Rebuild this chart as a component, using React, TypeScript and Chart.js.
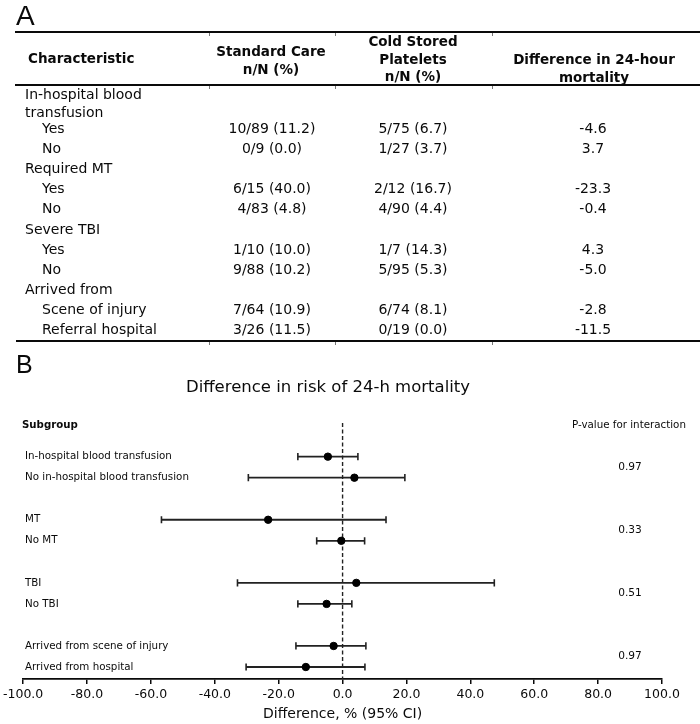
import React, { useEffect, useRef } from 'react';
import { Chart, registerables } from 'chart.js';

Chart.register(...registerables);

// ---------- Panel A data ----------
const tableHeaders = [
  'Characteristic',
  'Standard Care\nn/N (%)',
  'Cold Stored\nPlatelets\nn/N (%)',
  'Difference in 24-hour\nmortality',
];
const characteristics = [
  'In-hospital blood transfusion',
  'Yes',
  'No',
  'Required MT',
  'Yes',
  'No',
  'Severe TBI',
  'Yes',
  'No',
  'Arrived from',
  'Scene of injury',
  'Referral hospital',
];
const standardCare = ['', '10/89 (11.2)', '0/9 (0.0)', '', '6/15 (40.0)', '4/83 (4.8)', '', '1/10 (10.0)', '9/88 (10.2)', '', '7/64 (10.9)', '3/26 (11.5)'];
const coldStored = ['', '5/75 (6.7)', '1/27 (3.7)', '', '2/12 (16.7)', '4/90 (4.4)', '', '1/7 (14.3)', '5/95 (5.3)', '', '6/74 (8.1)', '0/19 (0.0)'];
const mortalityDifference = ['', '-4.6', '3.7', '', '-23.3', '-0.4', '', '4.3', '-5.0', '', '-2.8', '-11.5'];

// ---------- Panel B data ----------
const forestTitle = 'Difference in risk of 24-h mortality';
const subgroupHeader = 'Subgroup';
const pValueHeader = 'P-value for interaction';
const forestLabels = [
  'In-hospital blood transfusion',
  'No in-hospital blood transfusion',
  'MT',
  'No MT',
  'TBI',
  'No TBI',
  'Arrived from scene of injury',
  'Arrived from hospital',
];
const estimates = [-4.6, 3.7, -23.3, -0.4, 4.3, -5.0, -2.8, -11.5];
const ciLower = [-14.0, -29.5, -56.7, -8.1, -32.9, -14.0, -14.6, -30.2];
const ciUpper = [4.8, 19.5, 13.6, 6.9, 47.5, 2.9, 7.3, 7.0];
const pValues = ['0.97', '0.33', '0.51', '0.97'];
const xTickValues = [-100, -80, -60, -40, -20, 0, 20, 40, 60, 80, 100];
const xAxisTitle = 'Difference, % (95% CI)';

const FONT = '"DejaVu Sans", Verdana, sans-serif';
const INK = '#0a0a0a';

type TProps = {
  x: number;
  y: number;
  text: string;
  align?: 'left' | 'center';
  bold?: boolean;
  size: number;
  lh: number;
  width?: number;
  family?: string;
};

function T({ x, y, text, align = 'left', bold, size, lh, width, family }: TProps) {
  const style: React.CSSProperties = {
    position: 'absolute',
    top: y - lh / 2,
    fontFamily: family || FONT,
    fontSize: size,
    fontWeight: bold ? 700 : 400,
    lineHeight: lh + 'px',
    color: INK,
    whiteSpace: width ? 'normal' : 'pre',
    margin: 0,
  };
  if (align === 'center') {
    style.left = x - 150;
    style.width = 300;
    style.textAlign = 'center';
  } else {
    style.left = x;
    if (width) style.width = width;
  }
  return <div style={style}>{text}</div>;
}

function HLine({ y, x1, x2, w }: { y: number; x1: number; x2: number; w: number }) {
  return (
    <div
      style={{ position: 'absolute', left: x1, top: y - w / 2, width: x2 - x1, height: w, background: INK }}
    />
  );
}

function Tick({ x, y }: { x: number; y: number }) {
  return <div style={{ position: 'absolute', left: x, top: y, width: 1, height: 3, background: '#777' }} />;
}

export default function App() {
  const canvasRef = useRef<HTMLCanvasElement>(null);

  useEffect(() => {
    const canvas = canvasRef.current;
    if (!canvas) return;
    Chart.defaults.font.family = FONT;

    const slots = forestLabels.map((_, i) => i + Math.floor(i / 2));

    const ciSets: any[] = forestLabels.map((label, i) => ({
      label,
      data: [
        { x: ciLower[i], y: slots[i] },
        { x: ciUpper[i], y: slots[i] },
      ],
      showLine: true,
      borderColor: '#222',
      borderWidth: 1.8,
      pointStyle: 'line',
      pointRotation: 90,
      pointRadius: 3.6,
      pointBorderWidth: 1.6,
      pointBorderColor: '#222',
      pointBackgroundColor: '#222',
      order: 2,
    }));

    const textPlugin = {
      id: 'forestText',
      afterDatasetsDraw(chart: any) {
        const { ctx } = chart;
        const y = chart.scales.y;
        ctx.save();
        ctx.fillStyle = INK;
        ctx.textBaseline = 'middle';
        ctx.textAlign = 'left';
        ctx.font = `bold 10.2px ${FONT}`;
        ctx.fillText(subgroupHeader, 22, y.getPixelForValue(-1.5));
        ctx.font = `10.3px ${FONT}`;
        ctx.fillText(pValueHeader, 572, y.getPixelForValue(-1.5));
        forestLabels.forEach((l, i) => {
          ctx.fillText(l, 25, y.getPixelForValue(slots[i]));
        });
        ctx.textAlign = 'center';
        ctx.font = `10.6px ${FONT}`;
        pValues.forEach((p, g) => {
          ctx.fillText(p, 630, y.getPixelForValue(slots[g * 2] + 0.5));
        });
        ctx.restore();
      },
    };

    const chart = new Chart(canvas, {
      type: 'scatter',
      data: {
        datasets: [
          {
            label: 'zero',
            data: [
              { x: 0, y: -1.6 },
              { x: 0, y: 10.57 },
            ],
            showLine: true,
            borderColor: '#222',
            borderWidth: 1.4,
            borderDash: [4, 2.5],
            pointRadius: 0,
            order: 3,
          } as any,
          ...ciSets,
          {
            label: 'estimate',
            data: estimates.map((v, i) => ({ x: v, y: slots[i] })),
            pointRadius: 3.7,
            pointBorderWidth: 1,
            pointBackgroundColor: '#000',
            pointBorderColor: '#000',
            order: 0,
          } as any,
        ],
      },
      options: {
        responsive: false,
        animation: false,
        events: [],
        layout: { padding: { left: 23, right: 38, top: 423, bottom: 0 } },
        plugins: { legend: { display: false }, tooltip: { enabled: false }, title: { display: false } },
        scales: {
          x: {
            type: 'linear',
            min: -100,
            max: 100,
            afterBuildTicks: (s: any) => {
              s.ticks = xTickValues.map((v) => ({ value: v }));
            },
            afterFit: (s: any) => {
              s.height = 45;
            },
            ticks: {
              color: INK,
              font: { size: 12.5, family: FONT },
              padding: 3,
              maxRotation: 0,
              autoSkip: false,
              callback: (v: any) => Number(v).toFixed(1),
            },
            grid: {
              display: true,
              drawOnChartArea: false,
              drawTicks: true,
              tickLength: 5,
              color: INK,
              lineWidth: 1.5,
            },
            border: { display: true, color: INK, width: 1.8 },
            title: {
              display: true,
              text: xAxisTitle,
              color: INK,
              font: { size: 14, family: FONT, lineHeight: 1.2 },
              padding: { top: 0, bottom: 1 },
            },
          },
          y: {
            type: 'linear',
            display: false,
            reverse: true,
            min: -1.6,
            max: 10.57,
          },
        },
      },
      plugins: [textPlugin],
    } as any);

    return () => chart.destroy();
  }, []);

  const rowY = (i: number) => (i === 0 ? 94 : 128 + 20.1 * (i - 1));
  const headerTops = [59, 52, 42, 60];
  const headerX = [28, 271, 413, 594];
  const colX = [272, 413, 593];

  return (
    <div style={{ position: 'absolute', left: 0, top: 0, width: 700, height: 724, background: '#fff', overflow: 'hidden' }}>
      <canvas ref={canvasRef} width={700} height={724} style={{ position: 'absolute', left: 0, top: 0, width: 700, height: 724 }} />

      {/* Panel A */}
      <T x={16} y={16} text="A" size={28} lh={30} family='"Liberation Sans", Arial, sans-serif' />
      <HLine y={32} x1={15} x2={700} w={2} />
      <HLine y={85} x1={15} x2={700} w={1.5} />
      <HLine y={341} x1={16} x2={700} w={1.8} />
      {[209, 335, 492].map((x) => (
        <React.Fragment key={x}>
          <Tick x={x} y={33} />
          <Tick x={x} y={86} />
          <Tick x={x} y={342} />
        </React.Fragment>
      ))}
      {tableHeaders.map((h, c) => (
        <div
          key={'h' + c}
          style={{
            position: 'absolute',
            top: headerTops[c] - 17.5 / 2,
            left: c === 0 ? headerX[c] : headerX[c] - 150,
            width: c === 0 ? undefined : 300,
            textAlign: c === 0 ? 'left' : 'center',
            fontFamily: FONT,
            fontWeight: 700,
            fontSize: 13.5,
            lineHeight: '17.5px',
            whiteSpace: 'pre',
            color: INK,
          }}
        >
          {h}
        </div>
      ))}
      {characteristics.map((c, i) => {
        const indented = standardCare[i] !== '';
        const y = rowY(i);
        return (
          <React.Fragment key={'r' + i}>
            {i === 0 ? (
              <T x={25} y={y} text={c} size={14} lh={18} width={132} />
            ) : (
              <T x={indented ? 42 : 25} y={y} text={c} size={14} lh={18} />
            )}
            {standardCare[i] && <T x={colX[0]} y={y} text={standardCare[i]} align="center" size={14} lh={18} />}
            {coldStored[i] && <T x={colX[1]} y={y} text={coldStored[i]} align="center" size={14} lh={18} />}
            {mortalityDifference[i] && <T x={colX[2]} y={y} text={mortalityDifference[i]} align="center" size={14} lh={18} />}
          </React.Fragment>
        );
      })}

      {/* Panel B headings */}
      <T x={16} y={364} text="B" size={25} lh={28} family='"Liberation Sans", Arial, sans-serif' />
      <T x={328} y={387} text={forestTitle} align="center" size={16.5} lh={20} />
    </div>
  );
}
